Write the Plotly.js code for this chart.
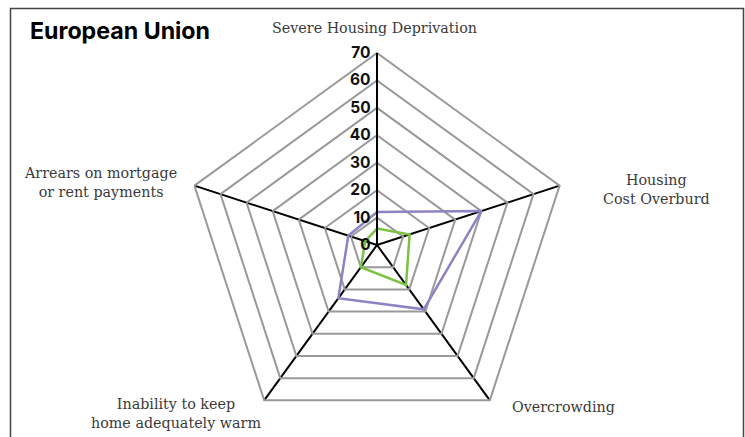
<!DOCTYPE html>
<html>
<head>
<meta charset="utf-8">
<script src="https://cdn.plot.ly/plotly-3.0.1.min.js"></script>
<style>
  html, body { margin: 0; padding: 0; background: #fff; }
  #chart { width: 745px; height: 437px; }
</style>
</head>
<body>
<div id="chart"></div>
<script>
// ---- data ----
const categories = ["Severe Housing Deprivation", "Housing Cost Overburden", "Overcrowding", "Inability to keep home adequately warm", "Arrears on mortgage or rent payments"];
const categoryLabels = ["Severe Housing Deprivation", "Housing<br>Cost Overburd", "Overcrowding", "Inability to keep<br>home adequately warm", "Arrears on mortgage<br>or rent payments"];
const seriesPurple = [12, 40, 29, 24, 11];
const seriesGreen = [6, 12.5, 18, 10, 4.5];
const radialTicks = [0, 10, 20, 30, 40, 50, 60, 70];
const chartTitle = "European Union";

function closed(arr) { return arr.concat([arr[0]]); }

const traces = [
  {
    type: 'scatterpolar', mode: 'lines',
    r: closed(seriesPurple), theta: closed(categories),
    line: { color: '#8a84c4', width: 2.5 },
    name: 'Purple', hoverinfo: 'r+theta'
  },
  {
    type: 'scatterpolar', mode: 'lines',
    r: closed(seriesGreen), theta: closed(categories),
    line: { color: '#7cc242', width: 2.5 },
    name: 'Green', hoverinfo: 'r+theta'
  }
];

// label anchor positions in pixels (layout only)
const W = 745, H = 437;
const labelPos = [
  { x: 374, y: 28, xanchor: 'center' },
  { x: 656, y: 190, xanchor: 'center' },
  { x: 563, y: 407, xanchor: 'center' },
  { x: 176, y: 413, xanchor: 'center' },
  { x: 100, y: 182, xanchor: 'center' }
];

const annotations = categoryLabels.map((t, i) => ({
  text: t, xref: 'paper', yref: 'paper',
  x: labelPos[i].x / W, y: 1 - labelPos[i].y / H,
  xanchor: labelPos[i].xanchor, yanchor: 'middle',
  showarrow: false, align: 'center',
  font: { family: 'DejaVu Serif, serif', size: 14.3, color: '#3a3a3a' }
}));

const cx = 377, cy = 245, R = 192;

const layout = {
  width: W, height: H,
  margin: { l: 0, r: 0, t: 0, b: 0 },
  paper_bgcolor: '#fff',
  showlegend: false,
  title: {
    text: '<b>' + chartTitle + '</b>',
    x: 30 / W, xanchor: 'left', y: 1 - 31 / H, yanchor: 'middle',
    font: { family: 'Inter, Roboto, sans-serif', size: 23.2, color: '#000', weight: 900 }
  },
  polar: {
    domain: { x: [(cx - R) / W, (cx + R) / W], y: [(H - cy - R) / H, (H - cy + R) / H] },
    gridshape: 'linear',
    bgcolor: 'rgba(0,0,0,0)',
    radialaxis: {
      range: [0, 70], tickvals: radialTicks, ticktext: radialTicks.map(String),
      angle: 90, tickangle: 90, side: 'counterclockwise',
      showline: true, linecolor: '#000', linewidth: 2,
      gridcolor: '#999', gridwidth: 2,
      ticks: '',
      tickfont: { family: 'Inter, Roboto, sans-serif', size: 15.5, color: '#111', weight: 700 }
    },
    angularaxis: {
      direction: 'clockwise', rotation: 90,
      showticklabels: false, ticks: '',
      showline: true, linecolor: '#999', linewidth: 2,
      gridcolor: '#000', gridwidth: 2
    }
  },
  annotations: annotations,
  shapes: [{
    type: 'path', xref: 'paper', yref: 'paper',
    path: 'M ' + (10.5 / W) + ' -0.02 L ' + (10.5 / W) + ' ' + (1 - 8.5 / H) + ' L ' + (743.5 / W) + ' ' + (1 - 8.5 / H) + ' L ' + (743.5 / W) + ' -0.02',
    line: { color: '#444', width: 1.5 }
  }]
};

Plotly.newPlot('chart', traces, layout, { displayModeBar: false, staticPlot: true });
</script>
</body>
</html>
